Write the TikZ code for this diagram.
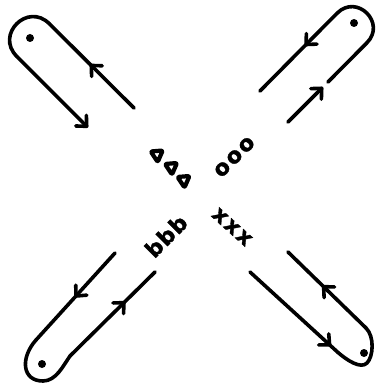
\documentclass[tikz,border=0pt]{standalone}
\usepackage{fontspec}
\newfontface\handfont{DejaVu Sans Bold}[FakeBold=1.5]
\usetikzlibrary{arrows.meta,decorations.markings}
\tikzset{
  strk/.style={line width=3.6pt, line cap=round, line join=round},
  tipR/.tip={Straight Barb[length=8pt,width=15pt,round]},
  midarr/.style={postaction={decorate}, decoration={markings, mark=at position #1 with {\arrow{tipR}}}},
  lbl/.style={font=\handfont\fontsize{22}{22}\selectfont, inner sep=0pt},
  tri/.style={line width=4.2pt, line join=round, rounded corners=1.2pt},
  spot/.style={fill=black}
}
\begin{document}
\begin{tikzpicture}[x=1pt,y=-1pt]
\useasboundingbox (0,0) rectangle (375,385);
% ---- top-left hairpin
\coordinate (tlA) at (134,108);
\coordinate (tlP1) at (49.3,23.7);
\coordinate (tlP2) at (16.7,56.3);
\coordinate (tlB) at (88,127.6);
\draw[strk, midarr=0.52] (tlA) -- (tlP1);
\draw[strk] (tlP1) .. controls (27.6,2.0) and (-5.0,34.6) .. (tlP2);
\draw[strk, -{tipR}] (tlP2) -- (tlB);
\fill[spot] (30,38) circle (4);
% ---- top-right hairpin
\coordinate (trT1) at (337.15,13.15);
\coordinate (trT2) at (366.85,42.85);
\coordinate (trE1) at (260,91);
\coordinate (trS) at (288,122);
\coordinate (trH) at (323,87);
\coordinate (trG) at (328,82);
\draw[strk, midarr=0.42] (trT1) -- (trE1);
\draw[strk] (trT1) .. controls (357,-6.65) and (386.65,23.05) .. (trT2);
\draw[strk, -{tipR}] (trS) -- (trH);
\draw[strk] (trG) -- (trT2);
\fill[spot] (354,23) circle (4);
% ---- bottom-left hairpin
\coordinate (blA0) at (115,253);
\coordinate (blA1) at (36,340);
\coordinate (blB1) at (70,356);
\coordinate (blB0) at (155,272);
\draw[strk, midarr=0.51] (blA0) -- (blA1);
\draw[strk] (blA1) .. controls (20,358) and (22,381) .. (43,381) .. controls (56,381) and (63,366) .. (blB1);
\draw[strk, midarr=0.65] (blB1) -- (blB0);
\fill[spot] (42,364) circle (4);
% ---- bottom-right hairpin
\coordinate (brC0) at (288,252);
\coordinate (brC1) at (366,328);
\coordinate (brD1) at (338,352.5);
\coordinate (brD0) at (250,272);
\draw[strk, midarr=0.56] (brC1) -- (brC0);
\draw[strk] (brC1) .. controls (374.6,336.4) and (373.4,356.6) .. (367,363) .. controls (360.6,369.4) and (346.9,360.1) .. (brD1);
\draw[strk, midarr=0.92] (brD0) -- (brD1);
\fill[spot] (364,353) circle (4);
% ---- centre marks
\foreach \p in {(156.7,156),(171,168.5),(183.5,181.5)}{
  \draw[tri] \p ++(-6,-4.5) -- ++(12,-1) -- ++(-5,11.5) -- cycle;
}
\node[lbl, rotate=45] (ooo) at (234.5,157) {o\kern2pt o\kern2pt o};
\node[lbl, rotate=45] (bbb) at (166,236) {b\kern1pt b\kern1pt b};
\node[lbl, rotate=-42] (xxx) at (232,227) {x\kern2pt x\kern2pt x};
\end{tikzpicture}
\end{document}
